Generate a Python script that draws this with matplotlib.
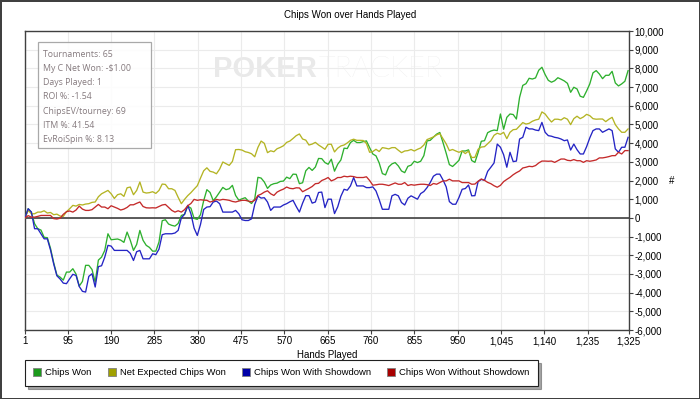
import matplotlib
matplotlib.use("Agg")
import matplotlib.pyplot as plt
from matplotlib.lines import Line2D
from matplotlib.patches import Rectangle
from matplotlib.ticker import FuncFormatter

# hand number of each sample (every 7th hand)
hands = list(range(1, 1325, 7))

chips_won = [0, 490, 310, -310, -580, -650, -1040, -1060, -1630, -2400,
             -3060, -3170, -3330, -2900, -2900, -2720, -3010, -3650, -3400, -2540,
             -2540, -2760, -3440, -2260, -2100, -1740, -850, -1170, -1150, -1130,
             -1190, -1310, -760, -1200, -1740, -1420, -670, -1200, -1470, -1580,
             -1780, -1780, -1290, -150, -100, -330, -400,
             -440, -300, 130, 190, 630, 520, -30, -80, 170, 920,
             1510, 1360, 920, 1130, 1380, 1630, 1510, 1560, 1740, 1200,
             950, 1020, 1080, 900, 770, 1020, 2170, 2130, 1920, 1580,
             1760, 1830, 1860, 1950, 1970, 2180, 2100, 2340, 2330, 1830,
             1880, 2520, 2700, 2540, 2720, 3180, 3170,
             2960, 2870, 3140, 2500, 2870, 3100, 3730, 3710, 4030, 4150,
             4030, 4030, 4080, 4120, 3760, 3420, 3320, 2940, 2370, 2300,
             2730, 2890, 2960, 2780, 2510, 2420, 2760, 2820, 3030, 2960,
             3030, 3330, 4120, 4150, 4320, 4480, 4570, 4030, 3460, 2850,
             2750, 2910, 3080, 3580, 3580, 3640, 3070,
             2970, 3490, 4100, 4130, 4560, 4650, 4700, 4670, 5560, 4740,
             5380, 5560, 5530, 5290, 6450, 7090, 7180, 7470, 7430, 7490,
             7900, 8060, 7670, 7360, 7260, 7340, 7500, 7420, 7330, 7200,
             6720, 6990, 6900, 6510, 6450, 6790, 7170, 7760, 7880, 7700,
             7450, 7630, 7630, 7840, 7220, 7060, 7170, 7310, 7880]

net_expected = [0, 400, 220, 220, 310, 310, 380, 260, 290, 170,
                200, 100, 80, 330, 490, 670, 630, 720, 690, 740,
                760, 830, 850, 1130, 1290, 1380, 1470, 1290, 1040, 1240,
                1290, 1150, 1610, 1650, 1240, 1470, 1920, 1380, 1330, 1350,
                1400, 1310, 1470, 1810, 1790, 1560, 1560,
                1470, 1100, 760, 990, 1190, 1350, 1540, 1720, 2130, 2520,
                2680, 2490, 2450, 2360, 2610, 2990, 2900, 2810, 3020, 3650,
                3660, 3630, 3540, 3500, 3430, 3270, 3770, 4110, 3990, 3490,
                3590, 3540, 3700, 3770, 3860, 4040, 4110, 4250, 4400, 4490,
                4220, 4160, 3900, 3950, 4040, 3900, 3790,
                3670, 3940, 3940, 3530, 3730, 3850, 3900, 4010, 4150, 4210,
                4150, 4150, 4140, 3980, 3510, 3550, 3670, 3550, 3760, 3730,
                3690, 3760, 3760, 3620, 3490, 3580, 3600, 3660, 3580, 3670,
                3740, 3900, 4190, 4260, 4330, 4440, 4510, 4240, 3960, 3600,
                3660, 3580, 3510, 3580, 3440, 3580, 3230,
                3240, 3670, 3790, 3810, 3970, 4130, 4420, 4530, 4470, 4580,
                4240, 4580, 4720, 4740, 4920, 5100, 5020, 5060, 5170, 5240,
                5280, 5670, 5560, 5330, 5130, 5280, 5280, 5240, 5360, 5280,
                4990, 5310, 5440, 5310, 5400, 5540, 5470, 5310, 5280, 5290,
                5290, 5150, 5280, 5380, 4990, 4760, 4580, 4580, 4760]

with_showdown = [0, 490, 310, -580, -580, -850, -1120, -1120, -1720, -2470,
                 -3100, -3270, -3490, -3520, -3260, -3020, -3080, -3670, -3930, -3970,
                 -3130, -2990, -3700, -2610, -2560, -2100, -1470, -1510, -1740, -1740,
                 -1740, -1740, -1740, -1900, -2280, -1810, -1740, -2190, -2190, -2190,
                 -1920, -1970, -1670, -900, -850, -850, -850,
                 -810, -670, 0, 190, 670, 220, -550, -940, -350, 450,
                 580, 600, 850, 900, 760, 310, 310, 310, 310, 400,
                 220, -100, -140, -140, -50, 720, 1170, 1060, 1080, 850,
                 400, 580, 580, 580, 690, 760, 860, 940, 610, 310,
                 790, 1190, 1190, 790, 850, 1360, 1380,
                 550, 1000, 1000, 230, 590, 1160, 1530, 1480, 1710, 2160,
                 1710, 1710, 1710, 1620, 1620, 1660, 1440, 980, 460, 460,
                 460, 1180, 1260, 1180, 820, 690, 1050, 1180, 1090, 1000,
                 1300, 1410, 1620, 1890, 2230, 2340, 2340, 2030, 1660, 870,
                 730, 730, 1090, 1530, 1570, 1760, 1180,
                 1190, 1940, 2060, 2010, 2490, 2710, 2940, 3950, 3780, 3380,
                 2710, 3510, 3010, 3040, 4220, 4310, 4850, 4760, 4760, 4700,
                 4670, 5110, 4580, 4400, 4370, 4310, 4280, 4220, 4130, 4170,
                 3630, 3950, 3650, 3420, 3420, 3810, 4280, 4670, 4760, 4760,
                 4580, 4670, 4760, 4670, 3690, 3510, 3780, 3780, 4310]

without_showdown = [0, 120, 40, 40, 80, 130, 130, 130, 130, -40,
                    -60, -20, 190, 330, 370, 310, 420, 630, 470, 400,
                    400, 440, 580, 720, 580, 580, 490, 650, 580, 510,
                    420, 470, 560, 700, 700, 780, 850, 610, 540, 530,
                    540, 530, 610, 690, 720, 560, 400,
                    310, 380, 310, 440, 650, 770, 990, 940, 970, 950,
                    940, 850, 900, 990, 950, 990, 970, 940, 880, 850,
                    900, 940, 940, 900, 860, 940, 1200, 1270, 1380, 1450,
                    1290, 1200, 1380, 1470, 1540, 1650, 1580, 1560, 1610, 1600,
                    1400, 1490, 1580, 1680, 1830, 1850, 2000,
                    2070, 2160, 1980, 2050, 2160, 2160, 2230, 2200, 2230, 2210,
                    2160, 2160, 2160, 2200, 2000, 1750, 1770, 1800, 1800, 1770,
                    1730, 1800, 1870, 1800, 1800, 1890, 1730, 1780, 1750, 1780,
                    1800, 1800, 1780, 1730, 1840, 1800, 1890, 1980, 1980, 2070,
                    1980, 1980, 1980, 1890, 1890, 1890, 1800,
                    1810, 1960, 2080, 2010, 1900, 1830, 1720, 1640, 1740, 1940,
                    2060, 2170, 2310, 2420, 2510, 2670, 2710, 2760, 2740, 2800,
                    2940, 3040, 3040, 3030, 3040, 2970, 3060, 3150, 3150, 3080,
                    3060, 3120, 3060, 3060, 2970, 3060, 3030, 3060, 3100, 3210,
                    3210, 3240, 3280, 3330, 3330, 3510, 3420, 3600, 3600]

x_ticks = [1, 95, 190, 285, 380, 475, 570, 665, 760, 855, 950, 1045, 1140, 1235, 1325]
y_ticks = list(range(-6000, 10001, 1000))

stats = ["Tournaments: 65", "My C Net Won: -$1.00", "Days Played: 1", "ROI %: -1.54",
         "ChipsEV/tourney: 69", "ITM %: 41.54", "EvRoiSpin %: 8.13"]

series = [("Chips Won", chips_won, "#2eb02e", "#1c9a1c"),
          ("Net Expected Chips Won", net_expected, "#b4b424", "#a0a000"),
          ("Chips Won With Showdown", with_showdown, "#2424c4", "#0000a8"),
          ("Chips Won Without Showdown", without_showdown, "#c42a2a", "#a80000")]

plt.rcParams["font.family"] = "Liberation Sans"

fig = plt.figure(figsize=(7, 3.99), dpi=100)
fig.patch.set_edgecolor("#404040")
fig.patch.set_linewidth(2)
ax = fig.add_axes([0.0357, 0.1729, 0.8622, 0.7494])

for name, vals, col, _ in series:
    ax.plot(hands, vals, color=col, lw=0.95, zorder=3)

ax.axhline(0, color="#404040", lw=1.2, zorder=2)
ax.set_xlim(1, 1325)
ax.set_ylim(-6000, 10000)
ax.set_xticks(x_ticks)
ax.set_yticks(y_ticks)
fmt = FuncFormatter(lambda v, p: f"{int(v):,}")
ax.xaxis.set_major_formatter(fmt)
ax.yaxis.set_major_formatter(fmt)
ax.yaxis.tick_right()
ax.yaxis.set_label_position("right")
ax.tick_params(axis="both", labelsize=7, length=3, width=0.8, color="#404040", pad=1.5)
ax.grid(True, color="#ebebeb", lw=0.8, zorder=0)
for s in ax.spines.values():
    s.set_color("#404040")
    s.set_linewidth(1.0)

ax.set_xlabel("Hands Played", fontsize=7, labelpad=3)
ax.set_ylabel("#", fontsize=7, rotation=0, labelpad=5, va="center")
fig.text(0.5, 0.962, "Chips Won over Hands Played", ha="center", va="center", fontsize=7)

# watermark
ax.text(0.312, 0.873, "POKER", transform=ax.transAxes, fontsize=21, fontweight="bold",
        color="#e9e9e9", ha="left", va="center", zorder=1)
ax.text(0.486, 0.873, "TRACKER", transform=ax.transAxes, fontsize=21, family="Lato",
        fontweight="light", color="#e8e8e8", ha="left", va="center", zorder=1)

# stats box
ax.add_patch(Rectangle((0.0222, 0.61), 0.1865, 0.3535, transform=ax.transAxes,
                       facecolor="white", edgecolor="#a0a0a0", lw=0.9, alpha=0.9, zorder=4))
for i, s in enumerate(stats):
    ax.text(0.0295, 0.921 - i * 0.0472, s, transform=ax.transAxes, fontsize=6.3,
            family="Open Sans", color="#857a7e", va="center", ha="left", zorder=5)

handles = [Line2D([], [], marker="s", ls="", markersize=5.5, markerfacecolor=mc,
                  markeredgecolor="#808080", markeredgewidth=0.6)
           for _, _, _, mc in series]
leg = fig.legend(handles, [s[0] for s in series], loc="lower left",
                 bbox_to_anchor=(0.0357, 0.033), borderaxespad=0, ncol=4, fontsize=6.8,
                 frameon=True, fancybox=False, shadow=True, edgecolor="#202020",
                 handlelength=0.7, handletextpad=0.5, columnspacing=1.8, borderpad=0.9)
leg.get_frame().set_linewidth(0.8)

fig.savefig("out.png", dpi=100)
